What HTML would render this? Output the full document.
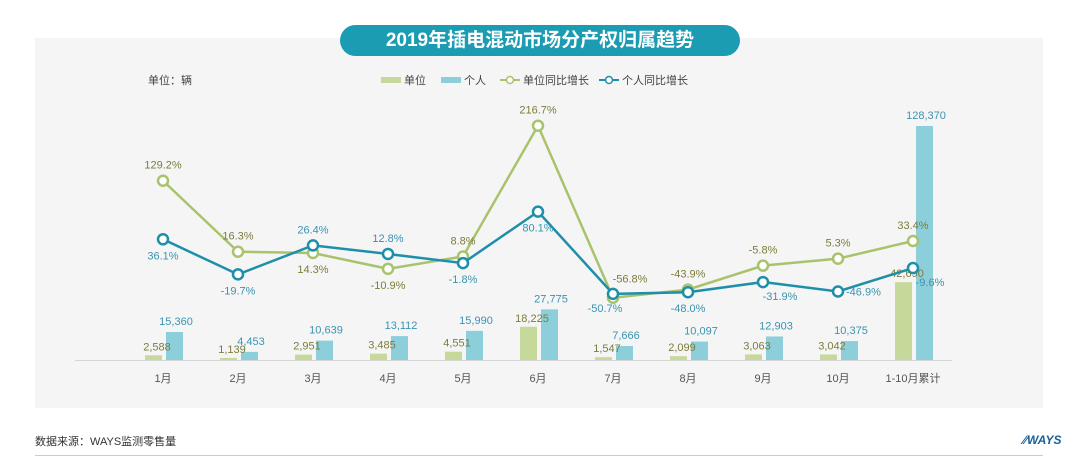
<!DOCTYPE html>
<html><head><meta charset="utf-8">
<style>
body{margin:0;width:1080px;height:457px;background:#fff;font-family:"Liberation Sans","Noto Sans CJK SC",sans-serif;overflow:hidden;position:relative}
#panel{position:absolute;left:35px;top:38px;width:1008px;height:370px;background:#f5f5f6}
#title{position:absolute;left:340px;top:25px;width:400px;height:31px;border-radius:16px;background:#1c9cb2;color:#fff;font-size:19px;font-weight:bold;text-align:center;line-height:31px}
#unit{position:absolute;left:148px;top:72px;font-size:11px;color:#444}
#src{position:absolute;left:35px;top:433px;font-size:11px;color:#333}
#logo{position:absolute;left:1023px;top:433px;font-size:12px;font-weight:bold;font-style:italic;color:#1a5f9a}
#bline{position:absolute;left:35px;top:455px;width:1008px;height:1px;background:#ccc}
svg{position:absolute;left:0;top:0}
</style></head><body>
<div id="panel"></div>
<div id="title">2019年插电混动市场分产权归属趋势</div>
<div id="unit">单位：辆</div>
<div id="src">数据来源：WAYS监测零售量</div>
<div id="logo">⁄⁄WAYS</div>
<div id="bline"></div>
<svg id="chart" width="1080" height="457"></svg>
<script>
const categories=["1月","2月","3月","4月","5月","6月","7月","8月","9月","10月","1-10月累计"];
const unitSales=[2588,1139,2951,3485,4551,18225,1547,2099,3063,3042,42690];
const personalSales=[15360,4453,10639,13112,15990,27775,7666,10097,12903,10375,128370];
const unitYoY=[129.2,16.3,14.3,-10.9,8.8,216.7,-56.8,-43.9,-5.8,5.3,33.4];
const personalYoY=[36.1,-19.7,26.4,12.8,-1.8,80.1,-50.7,-48.0,-31.9,-46.9,-9.6];
const unitLblPos=["a","a","b","b","a","a","ar","a","a","a","a"];
const persLblPos=["b","b","a","a","b","b","bl","b","br","r","br"];

const NS="http://www.w3.org/2000/svg";
const svg=document.getElementById('chart');
function mk(t,a,p){const e=document.createElementNS(NS,t);for(const k in a)e.setAttribute(k,a[k]);(p||svg).appendChild(e);return e;}
const xC=i=>163+i*75;
const base=360;
const yBar=v=>base-v*0.001823;
const yPct=v=>262-v*0.629;
const GB="#c6d99b",BB="#8ccfda",GL="#a9c36c",BL="#1e8fa9",GT="#7c7c3a",BT="#3a93b0";

// legend
let lg=mk('g',{});

const legItems=[["单位","bar",GB,381],["个人","bar",BB,441],["单位同比增长","line",GL,500],["个人同比增长","line",BL,599]];
legItems.forEach(it=>{
  const g=mk('g',{},lg);
  
  if(it[1]=="bar") mk('rect',{x:it[3],y:77,width:20,height:6,fill:it[2]},g);
  else {mk('line',{x1:it[3],y1:80,x2:it[3]+20,y2:80,stroke:it[2],'stroke-width':2},g);mk('circle',{cx:it[3]+10,cy:80,r:3.5,fill:'#fff',stroke:it[2],'stroke-width':1.5},g);}
  const t=mk('text',{x:it[3]+23,y:84,'font-size':11,fill:'#444'},g);t.textContent=it[0];
});

// axis
const ax=mk('line',{x1:75,y1:base+0.5,x2:952,y2:base+0.5,stroke:'#d5d5d5','stroke-width':1});

categories.forEach((c,i)=>{
  const t=mk('text',{x:xC(i),y:382,'font-size':11,fill:'#555','text-anchor':'middle'});
  
  t.textContent=c;
});
const fmt=v=>v.toLocaleString('en-US');
// bars
categories.forEach((c,i)=>{
  const y1=yBar(unitSales[i]);
  const r1=mk('rect',{x:xC(i)-18,y:y1,width:17,height:base-y1,fill:GB});
  
  const y2=yBar(personalSales[i]);
  const r2=mk('rect',{x:xC(i)+3,y:y2,width:17,height:base-y2,fill:BB});
  
  const t1=mk('text',{x:xC(i)-6,y:y1-5,'font-size':11,fill:GT,'text-anchor':'middle'});
  
  t1.textContent=fmt(unitSales[i]);
  const t2=mk('text',{x:xC(i)+13,y:y2-7,'font-size':11,fill:BT,'text-anchor':'middle'});
  
  t2.textContent=fmt(personalSales[i]);
});
function series(vals,col,tcol,pos,name){
  const pts=vals.map((v,i)=>xC(i)+','+yPct(v)).join(' ');
  const pl=mk('polyline',{points:pts,fill:'none',stroke:col,'stroke-width':2.5});
  
  vals.forEach((v,i)=>{
    const x=xC(i),y=yPct(v);
    const c=mk('circle',{cx:x,cy:y,r:5,fill:'#fff',stroke:col,'stroke-width':2.5});
    
    let tx=x,ty=y-12,anc='middle';const p=pos[i];
    if(p=="b")ty=y+20;
    if(p=="ar"){tx=x+17;ty=y-15;}
    if(p=="bl"){tx=x-8;ty=y+18;}
    if(p=="br"){tx=x+17;ty=y+18;}
    if(p=="r"){tx=x+8;ty=y+4;anc='start';}
    const t=mk('text',{x:tx,y:ty,'font-size':11,fill:tcol,'text-anchor':anc});
    
    t.textContent=v.toFixed(1)+'%';
  });
}
series(unitYoY,GL,GT,unitLblPos,'unit-yoy');
series(personalYoY,BL,BT,persLblPos,'personal-yoy');
</script>
</body></html>
